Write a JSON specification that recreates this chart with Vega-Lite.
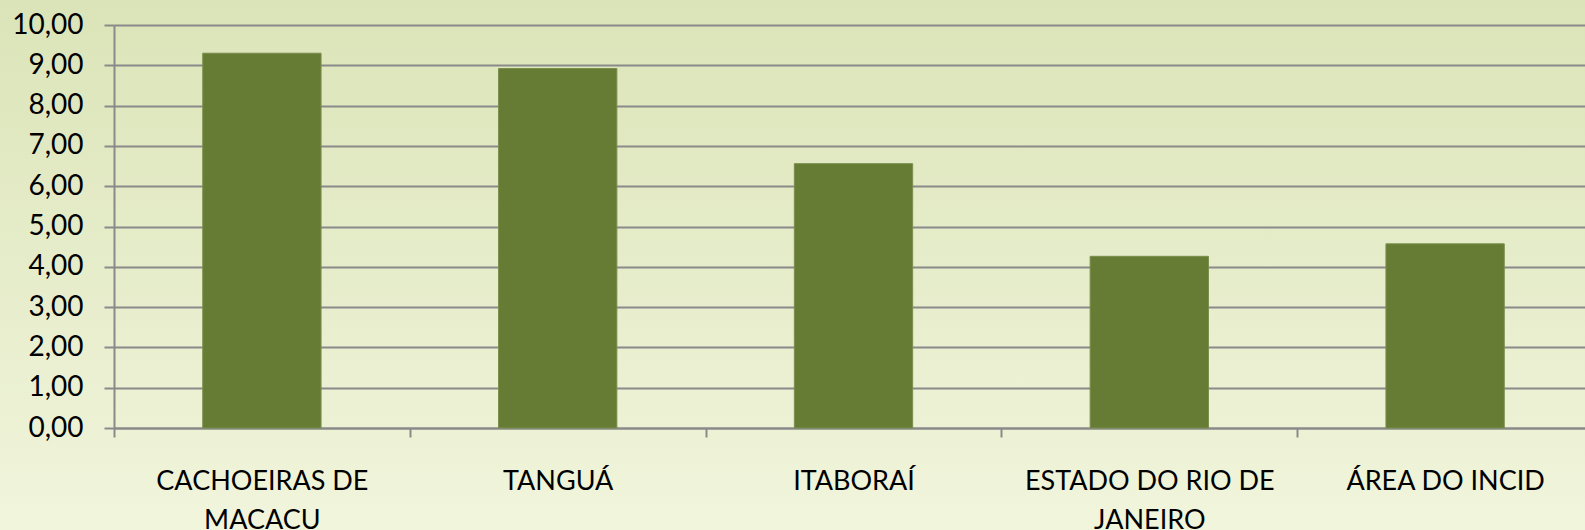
{
  "$schema": "https://vega.github.io/schema/vega-lite/v6.json",
  "width": 1585,
  "height": 530,
  "autosize": {"type": "none"},
  "padding": 0,
  "background": "#e7edcb",
  "data": {
    "values": [
      {"local": "CACHOEIRAS DE MACACU", "valor": 9.30},
      {"local": "TANGUÁ", "valor": 8.92},
      {"local": "ITABORAÍ", "valor": 6.56},
      {"local": "ESTADO DO RIO DE JANEIRO", "valor": 4.26},
      {"local": "ÁREA DO INCID", "valor": 4.57}
    ]
  },
  "mark": {"type": "bar", "color": "#667c34", "stroke": "#7a8f4c", "strokeWidth": 1, "width": {"band": 0.4}},
  "encoding": {
    "x": {
      "field": "local",
      "type": "nominal",
      "sort": null,
      "scale": {"paddingInner": 0, "paddingOuter": 0, "range": [114, 1593]},
      "axis": {
        "title": null,
        "offset": -102,
        "labelAngle": 0,
        "labelFont": "Lato",
        "labelFontSize": 27,
        "labelColor": "#000000",
        "labelLineHeight": 39,
        "labelPadding": 31,
        "labelLimit": 400,
        "labelExpr": "datum.value == 'CACHOEIRAS DE MACACU' ? ['CACHOEIRAS DE', 'MACACU'] : datum.value == 'ESTADO DO RIO DE JANEIRO' ? ['ESTADO DO RIO DE', 'JANEIRO'] : datum.value",
        "tickBand": "extent",
        "tickSize": 9,
        "tickColor": "#8a8a8a",
        "tickWidth": 2,
        "domainColor": "#8a8a8a",
        "domainWidth": 2,
        "grid": false
      }
    },
    "y": {
      "field": "valor",
      "type": "quantitative",
      "scale": {"domain": [0, 10], "nice": false, "range": [428, 25]},
      "axis": {
        "title": null,
        "offset": -114,
        "values": [0, 1, 2, 3, 4, 5, 6, 7, 8, 9, 10],
        "labelExpr": "replace(format(datum.value, '.2f'), '.', ',')",
        "labelFont": "Lato",
        "labelFontSize": 28,
        "labelColor": "#000000",
        "labelPadding": 21,
        "tickSize": 10,
        "tickColor": "#8a8a8a",
        "tickWidth": 2,
        "domainColor": "#8a8a8a",
        "domainWidth": 2,
        "grid": true,
        "gridColor": "#8a8a8a",
        "gridWidth": 2,
        "gridOpacity": 1
      }
    }
  },
  "config": {
    "view": {"stroke": null, "fill": {"gradient": "linear", "x1": 0, "y1": 0, "x2": 0, "y2": 1, "stops": [{"offset": 0, "color": "#dbe4b8"}, {"offset": 1, "color": "#f1f5dc"}]}},
    "axis": {"tickOpacity": 1, "domainOpacity": 1}
  }
}
